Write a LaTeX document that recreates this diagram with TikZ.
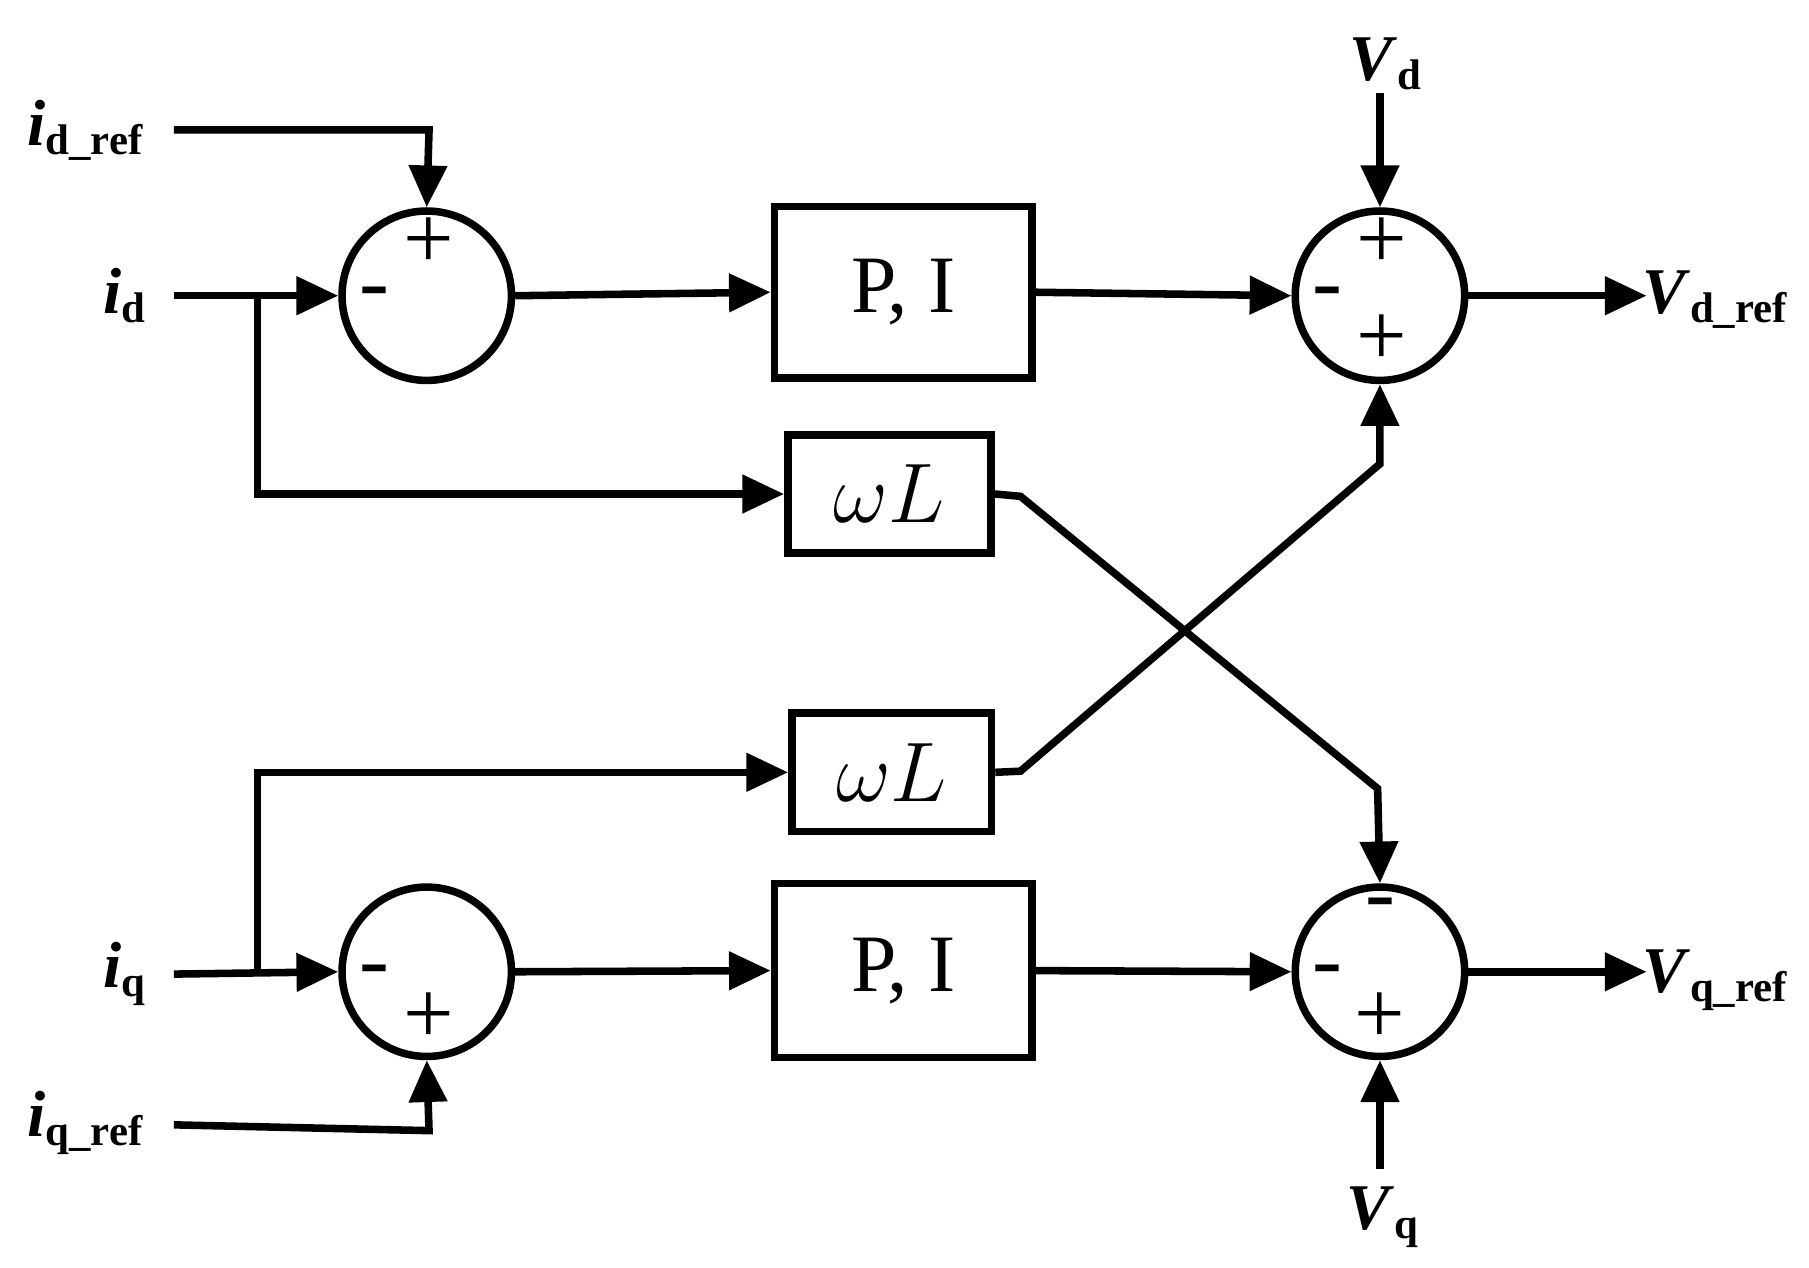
\documentclass[tikz,border=0pt]{standalone}
\usepackage{fontspec}
\setmainfont{Liberation Serif}
\usetikzlibrary{arrows.meta}
\newcommand{\lab}[2]{\textbf{\textit{#1}}\raisebox{-0.3ex}{\textbf{\fontsize{10.5}{10.5}\selectfont #2}}}
\begin{document}
\begin{tikzpicture}[x=0.01cm,y=-0.01cm,
  line width=0.065cm,
  arr/.style={-{Triangle[length=0.36cm,width=0.32cm]}},
  sum/.style={circle,draw,minimum size=1.46cm,inner sep=0},
  blk/.style={draw,rectangle,inner sep=0},
  lbl/.style={font=\fontsize{16}{16}\selectfont,inner sep=1pt},
  sg/.style={font=\fontsize{22}{22}\selectfont,inner sep=0}]
\useasboundingbox (0,0) rectangle (1560,1093);
\node[sum] (s1) at (368,255) {};
\node[sum] (s2) at (1190,255) {};
\node[sum] (s3) at (368,838) {};
\node[sum] (s4) at (1190,838) {};
\node[blk,minimum width=2.22cm,minimum height=1.48cm,font=\fontsize{20}{20}\selectfont] (pi1) at (779,252) {P, I};
\node[blk,minimum width=2.22cm,minimum height=1.50cm,font=\fontsize{20}{20}\selectfont] (pi2) at (779,837) {P, I};
\node[blk,minimum width=1.75cm,minimum height=1.02cm,font=\fontsize{22}{22}\selectfont] (w1) at (767,426) {$\omega L$};
\node[blk,minimum width=1.72cm,minimum height=1.02cm,font=\fontsize{22}{22}\selectfont] (w2) at (769,666) {$\omega L$};
\node[lbl,anchor=east] (idref) at (130,112) {\lab{i}{d\_ref}};
\node[lbl,anchor=east] (id) at (132,255) {\lab{i}{d}};
\node[lbl,anchor=east] (iq) at (132,840) {\lab{i}{q}};
\node[lbl,anchor=east] (iqref) at (130,968) {\lab{i}{q\_ref}};
\node[lbl] (vd) at (1195,55) {\lab{V}{d}};
\node[lbl] (vq) at (1192,1050) {\lab{V}{q}};
\node[lbl,anchor=east] (vdref) at (1548,258) {\lab{V}{d\_ref}};
\node[lbl,anchor=east] (vqref) at (1548,845) {\lab{V}{q\_ref}};
\node[sg] at (370,210) {+};
\node[sg] at (323,258) {-};
\node[sg] at (1192,210) {+};
\node[sg] at (1145,258) {-};
\node[sg] at (1192,293) {+};
\node[sg] at (323,843) {-};
\node[sg] at (370,878) {+};
\node[sg] at (1190,785) {-};
\node[sg] at (1145,843) {-};
\node[sg] at (1190,878) {+};
\coordinate (a1) at (150,112);
\coordinate (a2) at (150,255);
\coordinate (a3) at (150,840);
\coordinate (a4) at (150,970);
\coordinate (bd) at (222,255);
\coordinate (bq) at (222,840);
\coordinate (vdtop) at (1190,80);
\coordinate (vqbot) at (1190,1008);
\draw[arr] (a1) -- (370,112) -- (s1.north);
\draw[arr] (a2) -- (s1.west);
\draw[arr] (bd) |- (w1.west);
\draw[arr] (s1.east) -- (pi1.west);
\draw[arr] (pi1.east) -- (s2.west);
\draw[arr] (s2.east) -- (1420,255);
\draw[arr] (vdtop) -- (s2.north);
\draw[arr] (w1.east) -- (880,428) -- (1188,680) -- (s4.north);
\draw[arr] (w2.east) -- (880,665) -- (1190,400) -- (s2.south);
\draw[arr] (a3) -- (s3.west);
\draw[arr] (bq) |- (w2.west);
\draw[arr] (a4) -- (370,975) -- (s3.south);
\draw[arr] (s3.east) -- (pi2.west);
\draw[arr] (pi2.east) -- (s4.west);
\draw[arr] (s4.east) -- (1420,838);
\draw[arr] (vqbot) -- (s4.south);
\end{tikzpicture}
\end{document}
